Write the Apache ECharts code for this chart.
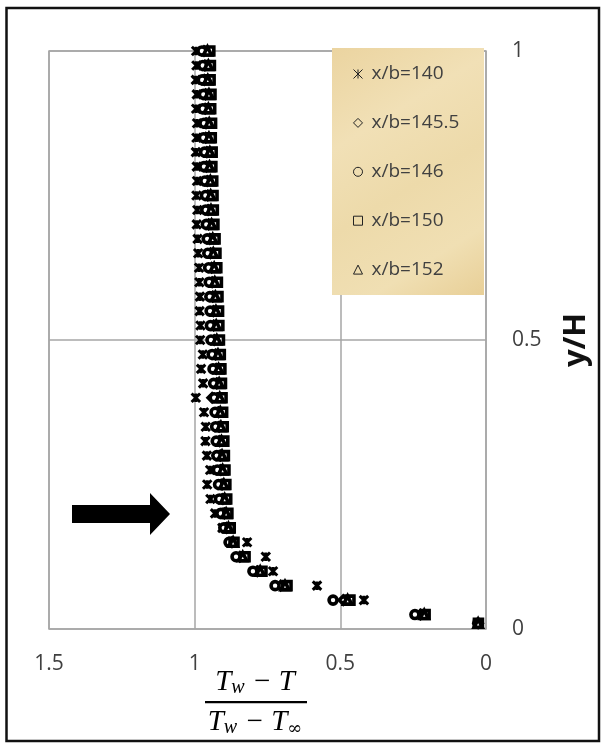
<!DOCTYPE html>
<html><head><meta charset="utf-8">
<script src="https://cdn.jsdelivr.net/npm/echarts@6/dist/echarts.min.js"></script>
<style>html,body{margin:0;padding:0;background:#fff}#c{width:603px;height:743px}</style>
</head><body><div id="c"></div>
<script>
var yPos = [1,0.975,0.95,0.925,0.9,0.875,0.85,0.825,0.8,0.775,0.75,0.725,0.7,0.675,0.65,0.625,0.6,0.575,0.55,0.525,0.5,0.475,0.45,0.425,0.4,0.375,0.35,0.325,0.3,0.275,0.25,0.225,0.2,0.175,0.15,0.125,0.1,0.075,0.05,0.025,0.01];
var xb140 = [0.995,0.994,0.996,0.993,0.995,0.992,0.994,0.996,0.993,0.992,0.994,0.991,0.993,0.99,0.988,0.985,0.984,0.982,0.983,0.98,0.981,0.972,0.978,0.971,0.996,0.968,0.962,0.963,0.958,0.947,0.957,0.946,0.93,0.905,0.82,0.756,0.731,0.58,0.419,0.215,0.028];
var xb145_5 = [0.968,0.965,0.967,0.963,0.964,0.961,0.962,0.958,0.96,0.957,0.955,0.954,0.952,0.948,0.946,0.942,0.94,0.938,0.936,0.935,0.933,0.928,0.926,0.924,0.94,0.918,0.916,0.914,0.912,0.91,0.906,0.903,0.898,0.89,0.872,0.845,0.785,0.705,0.49,0.225,0.027];
var xb146 = [0.975,0.972,0.974,0.97,0.972,0.968,0.97,0.966,0.968,0.965,0.963,0.962,0.96,0.957,0.955,0.952,0.95,0.948,0.947,0.946,0.944,0.94,0.937,0.935,0.933,0.93,0.928,0.926,0.924,0.922,0.918,0.915,0.91,0.9,0.882,0.858,0.8,0.724,0.525,0.244,0.028];
var xb150 = [0.948,0.946,0.947,0.944,0.945,0.942,0.943,0.94,0.941,0.938,0.937,0.936,0.934,0.93,0.927,0.924,0.922,0.92,0.918,0.917,0.915,0.912,0.91,0.908,0.906,0.904,0.902,0.9,0.898,0.896,0.893,0.89,0.886,0.878,0.865,0.827,0.769,0.683,0.467,0.209,0.026];
var xb152 = [0.956,0.953,0.955,0.951,0.953,0.95,0.951,0.948,0.949,0.946,0.945,0.944,0.942,0.938,0.936,0.933,0.931,0.929,0.927,0.926,0.924,0.92,0.918,0.916,0.914,0.912,0.91,0.908,0.906,0.904,0.9,0.897,0.892,0.884,0.868,0.835,0.775,0.69,0.475,0.212,0.027];
var seriesNames = ['x/b=140','x/b=145.5','x/b=146','x/b=150','x/b=152'];
var xTicks = [0, 0.5, 1, 1.5];
var yTicks = [0, 0.5, 1];

var starPath = 'path://M0,0L10,10M10,0L0,10M5,0L5,10';
var symbols = [starPath, 'diamond', 'circle', 'rect', 'triangle'];
var xs = [xb140, xb145_5, xb146, xb150, xb152];

function pairs(xv){ return xv.map(function(v,i){ return [v, yPos[i]]; }); }

var chart = echarts.init(document.getElementById('c'), null, {renderer:'canvas'});
var series = seriesNames.map(function(n, k){
  return {
    name: n, type: 'scatter', data: pairs(xs[k]),
    symbol: symbols[k], symbolSize: k===0 ? 8.5 : 8,
    itemStyle: { color: k===0 ? '#000' : '#fff', borderColor: '#000', borderWidth: k===0 ? 3 : 3.6, opacity: 1 },
    z: 3
  };
});

var legendData = seriesNames.map(function(n,k){
  return { name: n, icon: symbols[k], itemStyle: { color: k===0 ? '#000' : 'transparent', borderColor: '#222', borderWidth: 1 } };
});

chart.setOption({
  animation: false,
  backgroundColor: '#fff',
  grid: { left: 49, right: 117, top: 51, bottom: 114, show: true, borderColor: '#A6A6A6', borderWidth: 1.5, containLabel: false, outerBoundsMode: 'none' },
  xAxis: {
    type: 'value', min: 0, max: 1.5, interval: 0.5, inverse: true,
    axisLine: { show: false }, axisTick: { show: false },
    splitLine: { show: true, lineStyle: { color: '#A6A6A6', width: 1.5 } },
    axisLabel: { color: '#404040', fontSize: 21, fontFamily: 'Open Sans', margin: 25,
      formatter: function(v){ return xTicks.indexOf(v) >= 0 ? String(v) : ''; } }
  },
  yAxis: {
    type: 'value', min: 0, max: 1, interval: 0.5, position: 'right',
    axisLine: { show: false }, axisTick: { show: false },
    splitLine: { show: true, lineStyle: { color: '#A6A6A6', width: 1.5 } },
    axisLabel: { color: '#404040', fontSize: 21, fontFamily: 'Open Sans', margin: 26, align: 'left',
      formatter: function(v){ return yTicks.indexOf(v) >= 0 ? String(v) : ''; } },
    name: 'y/H', nameLocation: 'middle', nameRotate: 90, nameGap: 75,
    nameTextStyle: { color: '#111', fontSize: 31, fontWeight: 'bold', fontFamily: 'Open Sans' }
  },
  legend: {
    orient: 'vertical', left: 340, top: 56.5, data: legendData,
    itemWidth: 9, itemHeight: 9, itemGap: 29.9, padding: [8, 0, 0, 13],
    textStyle: { color: '#404040', fontSize: 19, fontFamily: 'Open Sans', padding: [0,0,0,4] },
    z: 5
  },
  graphic: [
    { type: 'rect', z: 1, shape: { x: 332, y: 48, width: 152, height: 247 },
      style: { fill: { type: 'linear', x: 0, y: 0, x2: 1, y2: 1, colorStops: [
        { offset: 0, color: '#EBD4A0' }, { offset: 0.3, color: '#F1E0B6' }, { offset: 0.55, color: '#EDDAAA' },
        { offset: 0.8, color: '#F0DFB3' }, { offset: 1, color: '#E8CF97' } ] }, stroke: null } },
    { type: 'polygon', z: 5, shape: { points: [[72,505],[150,505],[150,493],[170,514],[150,535],[150,523],[72,523]] }, style: { fill: '#000' } },
    { type: 'rect', z: 10, shape: { x: 6.5, y: 8, width: 592.5, height: 733 }, style: { fill: null, stroke: '#111', lineWidth: 2.5 } },
    { type: 'text', z: 5, x: 255, y: 682, style: {
        text: '{t|T}{s|w}{t| − T}', align: 'center', verticalAlign: 'middle',
        rich: { t: { fontFamily: 'Liberation Serif', fontStyle: 'italic', fontSize: 29, color: '#000', lineHeight: 32 },
                s: { fontFamily: 'Liberation Serif', fontStyle: 'italic', fontSize: 20, color: '#000', lineHeight: 32, verticalAlign: 'bottom', padding: [13,0,0,0] } } } },
    { type: 'rect', z: 5, shape: { x: 205, y: 701, width: 102, height: 2.2 }, style: { fill: '#000' } },
    { type: 'text', z: 5, x: 255, y: 722, style: {
        text: '{t|T}{s|w}{t| − T}{i|∞}', align: 'center', verticalAlign: 'middle',
        rich: { t: { fontFamily: 'Liberation Serif', fontStyle: 'italic', fontSize: 29, color: '#000', lineHeight: 32 },
                s: { fontFamily: 'Liberation Serif', fontStyle: 'italic', fontSize: 20, color: '#000', lineHeight: 32, verticalAlign: 'bottom', padding: [13,0,0,0] },
                i: { fontFamily: 'DejaVu Serif', fontSize: 18, color: '#000', lineHeight: 32, verticalAlign: 'bottom', padding: [13,0,0,0] } } } }
  ],
  series: series
});
</script></body></html>
